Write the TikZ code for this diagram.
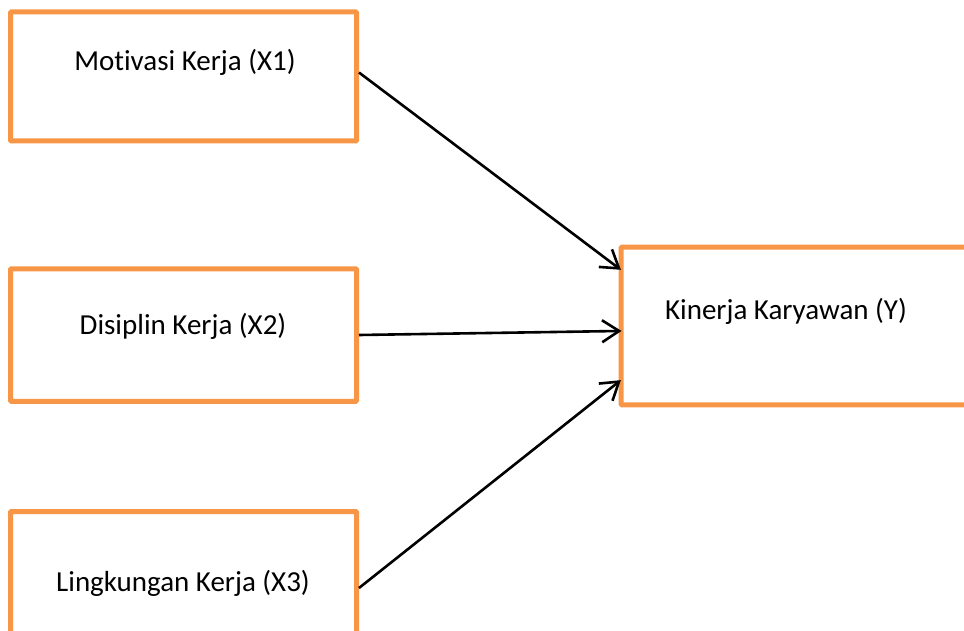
\documentclass[tikz,border=0pt]{standalone}
\usepackage{fontspec}
\setmainfont[Ligatures=NoCommon]{Carlito}
\usetikzlibrary{arrows.meta}
\definecolor{boxorange}{RGB}{247,150,70}
\tikzset{
  varbox/.style={draw=boxorange, line width=5pt, rounded corners=1pt, inner sep=0pt},
  lbl/.style={inner sep=0pt, anchor=center, font=\fontsize{29}{35}\selectfont},
  conn/.style={line width=2.6pt, shorten >=-3pt, -{Straight Barb[length=17pt, width=22pt, line width=2.6pt]}}
}
\begin{document}
\begin{tikzpicture}[x=1pt, y=-1pt]
\useasboundingbox (0,0) rectangle (964,631);
\clip (0,0) rectangle (964,631);
\node[varbox, minimum width=346pt, minimum height=129pt] (x1) at (183.5,76.5) {};
\node[varbox, minimum width=346pt, minimum height=132.5pt] (x2) at (183.5,335) {};
\node[varbox, minimum width=346pt, minimum height=140pt] (x3) at (183.5,581.5) {};
\node[varbox, minimum width=354pt, minimum height=157.5pt] (y) at (798,326) {};
\node[lbl] (t1) at (185,62) {Motivasi Kerja (X1)};
\node[lbl] (t2) at (183,326) {Disiplin Kerja (X2)};
\node[lbl] (t3) at (183,583) {Lingkungan Kerja (X3)};
\node[lbl] (ty) at (786,311) {Kinerja Karyawan (Y)};
\draw[conn] ([yshift=4pt]x1.east) -- ([yshift=58pt]y.west);
\draw[conn] (x2.east) -- ([yshift=-5pt]y.west);
\draw[conn] ([yshift=-6.5pt]x3.east) -- ([yshift=-56pt]y.west);
\end{tikzpicture}
\end{document}
